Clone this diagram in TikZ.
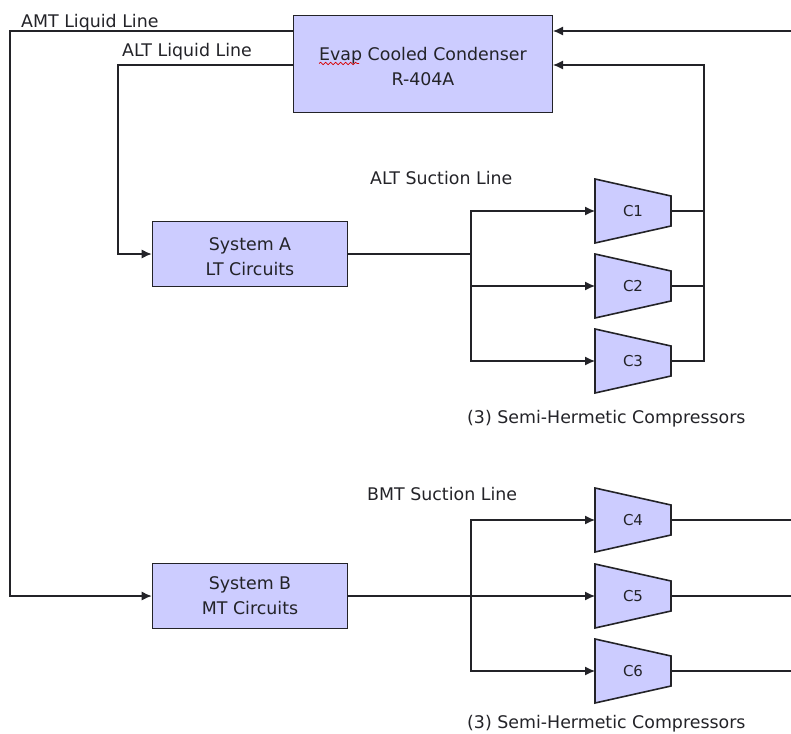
\documentclass[tikz,border=0pt]{standalone}
\usepackage{fontspec}
\setmainfont{DejaVu Sans}
\usetikzlibrary{arrows.meta,decorations.pathmorphing}
\definecolor{fillb}{RGB}{204,204,255}
\definecolor{ink}{RGB}{35,35,40}
\tikzset{
 x=1pt,y=-1pt,
 boxn/.style={draw=ink,fill=fillb,line width=1.6pt,align=center,font=\fontsize{17.4}{25}\selectfont,text=ink,inner sep=0pt},
 lab/.style={font=\fontsize{17.4}{18}\selectfont,text=ink,inner sep=0pt},
 clab/.style={font=\fontsize{15}{18}\selectfont,text=ink,inner sep=0pt},
 lin/.style={draw=ink,line width=1.2pt},
 arr/.style={lin,-{Latex[length=10pt,width=9pt]}},
 comp/.style={draw=ink,fill=fillb,line width=1.6pt},
 squig/.style={draw=red!85!black,line width=0.7pt,decorate,decoration={snake,amplitude=1.2pt,segment length=5pt}}
}
\newcommand{\dn}{\rule{0pt}{18pt}}
\newcommand{\compr}[3]{%
 \draw[comp] (595,#2-32) -- (671,#2-15) -- (671,#2+15) -- (595,#2+32) -- cycle;
 \node[clab] (#1) at (633,#2) {#3};
 \coordinate (#1in) at (595,#2);
 \coordinate (#1out) at (671,#2);
}
\begin{document}
\begin{tikzpicture}
\useasboundingbox (0,0) rectangle (791,733);
\node[boxn,minimum width=259,minimum height=97] (cond) at (423,64) {\dn Evap Cooled Condenser\\R-404A};
\draw[squig] (319,63.5) -- (359,63.5);
\node[boxn,minimum width=195,minimum height=65] (sysa) at (250,254) {\dn System A\\LT Circuits};
\node[boxn,minimum width=195,minimum height=65] (sysb) at (250,596) {System B\\MT Circuits};
\compr{c1}{211}{C1}
\compr{c2}{286}{C2}
\compr{c3}{361}{C3}
\compr{c4}{520}{C4}
\compr{c5}{596}{C5}
\compr{c6}{671}{C6}
\node[lab,anchor=west] at (21,23) {AMT Liquid Line};
\node[lab,anchor=west] at (122,52) {ALT Liquid Line};
\node[lab,anchor=west] at (370,178) {ALT Suction Line};
\node[lab,anchor=west] at (367,494) {BMT Suction Line};
\node[lab,anchor=west] at (467,419) {(3) Semi-Hermetic Compressors};
\node[lab,anchor=west] at (467,724) {(3) Semi-Hermetic Compressors};
\coordinate (e1) at (791,31);
\coordinate (e4) at (791,520);
\coordinate (e5) at (791,596);
\coordinate (e6) at (791,671);
\coordinate (ja) at (471,254);
\coordinate (jb) at (471,596);
\draw[arr] (e1) -- (553,31);
\draw[arr] (c1out) -- (704,211) -- (704,65) -- (553,65);
\draw[lin] (c2out) -- (704,286) -- (704,211);
\draw[lin] (c3out) -- (704,361) -- (704,286);
\draw[lin] (c4out) -- (e4);
\draw[lin] (c5out) -- (e5);
\draw[lin] (c6out) -- (e6);
\draw[arr] (293,31) -- (10,31) -- (10,596) -- (sysb.west);
\draw[arr] (293,65) -- (118,65) -- (118,254) -- (sysa.west);
\draw[lin] (sysa.east) -- (ja);
\draw[arr] (ja) |- (c1in);
\draw[arr] (ja) |- (c2in);
\draw[arr] (ja) |- (c3in);
\draw[lin] (sysb.east) -- (jb);
\draw[arr] (jb) |- (c4in);
\draw[arr] (jb) -- (c5in);
\draw[arr] (jb) |- (c6in);
\end{tikzpicture}
\end{document}
